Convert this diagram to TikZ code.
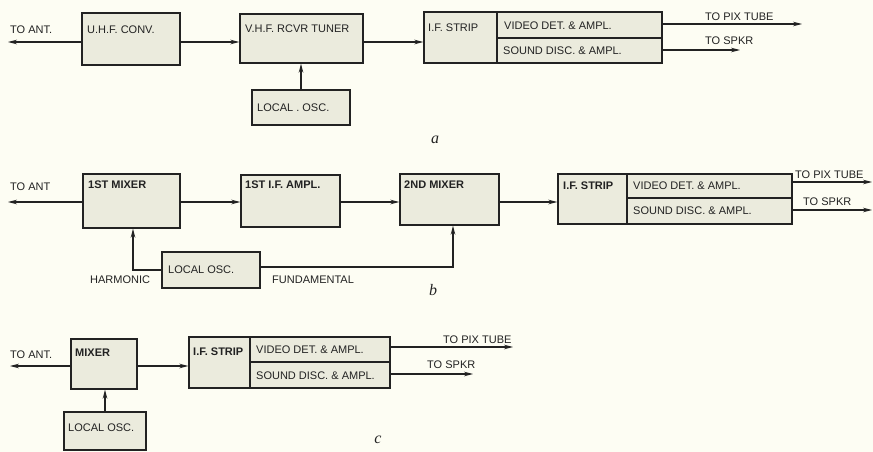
\documentclass[tikz,border=0pt]{standalone}
\usepackage{fontspec}
\setmainfont{Liberation Sans}
\newfontfamily\tagfont{Liberation Serif}
\usetikzlibrary{arrows.meta,fit}
\definecolor{bg}{HTML}{FDFDF3}
\definecolor{boxfill}{HTML}{EBEBDD}
\definecolor{ink}{HTML}{222222}
\begin{document}
\begin{tikzpicture}[x=1pt,y=-1pt,
 blk/.style={draw=ink, line width=1.4pt, fill=boxfill, inner sep=0pt},
 txt/.style={anchor=west, inner sep=0pt, font=\fontsize{11}{12}\selectfont, text=ink},
 btxt/.style={txt, font=\fontsize{11}{12}\selectfont\bfseries},
 wire/.style={draw=ink, line width=1.1pt},
 arr/.style={wire, -{Stealth[length=9pt,width=4.6pt]}},
 tag/.style={font=\tagfont\itshape\fontsize{16}{16}\selectfont, text=ink}]
\fill[bg] (0,0) rectangle (873,452);
\useasboundingbox (0,0) rectangle (873,452);

% ---------------- a ----------------
\node[blk, fit={(82,13) (180,65)}] (uhf) {};
\node[blk, fit={(240,14) (363,63)}] (vhf) {};
\node[blk, fit={(252,90) (350,125)}] (loA) {};
\node[blk, fit={(424,12) (497,63)}] (ifA) {};
\node[blk, fit={(497,12) (662,38)}] (vidA) {};
\node[blk, fit={(497,38) (662,63)}] (sndA) {};
\node[txt] (uhfT) at (87,30) {U.H.F. CONV.};
\node[txt] (vhfT) at (245,29) {V.H.F. RCVR TUNER};
\node[txt] (loAT) at (257,108) {LOCAL . OSC.};
\node[txt] (ifAT) at (428,28) {I.F. STRIP};
\node[txt] (vidAT) at (504,26) {VIDEO DET. \& AMPL.};
\node[txt] (sndAT) at (503,51) {SOUND DISC. \& AMPL.};
\node[txt] (antAT) at (10,30) {TO ANT.};
\node[txt] (pixAT) at (705,17) {TO PIX TUBE};
\node[txt] (spkAT) at (705,41) {TO SPKR};
\node[tag] (tagA) at (435,140) {a};
\coordinate (antA) at (8,42);
\coordinate (pixA) at (802,24);
\coordinate (spkA) at (740,50);
\draw[arr] (uhf.west |- antA) -- (antA);
\draw[arr] (uhf.east |- antA) -- (vhf.west |- antA);
\draw[arr] (vhf.east |- antA) -- (ifA.west |- antA);
\draw[arr] (loA.north) -- (loA.north |- vhf.south);
\draw[arr] (vidA.east |- pixA) -- (pixA);
\draw[arr] (sndA.east |- spkA) -- (spkA);

% ---------------- b ----------------
\node[blk, fit={(83,174) (180,228)}] (mix1) {};
\node[blk, fit={(241,175) (340,227)}] (ifamp) {};
\node[blk, fit={(400,174) (499,225)}] (mix2) {};
\node[blk, fit={(162,252) (260,288)}] (loB) {};
\node[blk, fit={(558,174) (627,224)}] (ifB) {};
\node[blk, fit={(627,174) (792,198)}] (vidB) {};
\node[blk, fit={(627,198) (792,224)}] (sndB) {};
\node[btxt] (mix1T) at (88,185) {1ST MIXER};
\node[btxt] (ifampT) at (245,185) {1ST I.F. AMPL.};
\node[btxt] (mix2T) at (404,185) {2ND MIXER};
\node[txt] (loBT) at (168,270) {LOCAL OSC.};
\node[btxt] (ifBT) at (563,186) {I.F. STRIP};
\node[txt] (vidBT) at (633,186) {VIDEO DET. \& AMPL.};
\node[txt] (sndBT) at (633,211) {SOUND DISC. \& AMPL.};
\node[txt] (antBT) at (10,187) {TO ANT};
\node[txt] (harmT) at (90,280) {HARMONIC};
\node[txt] (fundT) at (272,280) {FUNDAMENTAL};
\node[txt] (pixBT) at (795,175) {TO PIX TUBE};
\node[txt] (spkBT) at (803,202) {TO SPKR};
\node[tag] (tagB) at (433,290) {b};
\coordinate (antB) at (8,202);
\coordinate (harm) at (133,270);
\coordinate (fund) at (453,267);
\coordinate (pixB) at (872,182);
\coordinate (spkB) at (872,210);
\draw[arr] (mix1.west |- antB) -- (antB);
\draw[arr] (mix1.east |- antB) -- (ifamp.west |- antB);
\draw[arr] (ifamp.east |- antB) -- (mix2.west |- antB);
\draw[arr] (mix2.east |- antB) -- (ifB.west |- antB);
\draw[arr] (loB.west |- harm) -- (harm) -- (harm |- mix1.south);
\draw[arr] (loB.east |- fund) -- (fund) -- (fund |- mix2.south);
\draw[arr] (vidB.east |- pixB) -- (pixB);
\draw[arr] (sndB.east |- spkB) -- (spkB);

% ---------------- c ----------------
\node[blk, fit={(71,339) (137,389)}] (mixC) {};
\node[blk, fit={(64,412) (146,450)}] (loC) {};
\node[blk, fit={(189,337) (250,388)}] (ifC) {};
\node[blk, fit={(250,337) (390,362)}] (vidC) {};
\node[blk, fit={(250,362) (390,388)}] (sndC) {};
\node[btxt] (mixCT) at (75,353) {MIXER};
\node[txt] (loCT) at (68,428) {LOCAL OSC.};
\node[btxt] (ifCT) at (193,352) {I.F. STRIP};
\node[txt] (vidCT) at (256,350) {VIDEO DET. \& AMPL.};
\node[txt] (sndCT) at (256,376) {SOUND DISC. \& AMPL.};
\node[txt] (antCT) at (10,355) {TO ANT.};
\node[txt] (pixCT) at (443,340) {TO PIX TUBE};
\node[txt] (spkCT) at (427,365) {TO SPKR};
\node[tag] (tagC) at (378,440) {c};
\coordinate (antC) at (10,366);
\coordinate (pixC) at (513,347);
\coordinate (spkC) at (473,374);
\draw[arr] (mixC.west |- antC) -- (antC);
\draw[arr] (mixC.east |- antC) -- (ifC.west |- antC);
\draw[arr] (loC.north) -- (loC.north |- mixC.south);
\draw[arr] (vidC.east |- pixC) -- (pixC);
\draw[arr] (sndC.east |- spkC) -- (spkC);
\end{tikzpicture}
\end{document}
